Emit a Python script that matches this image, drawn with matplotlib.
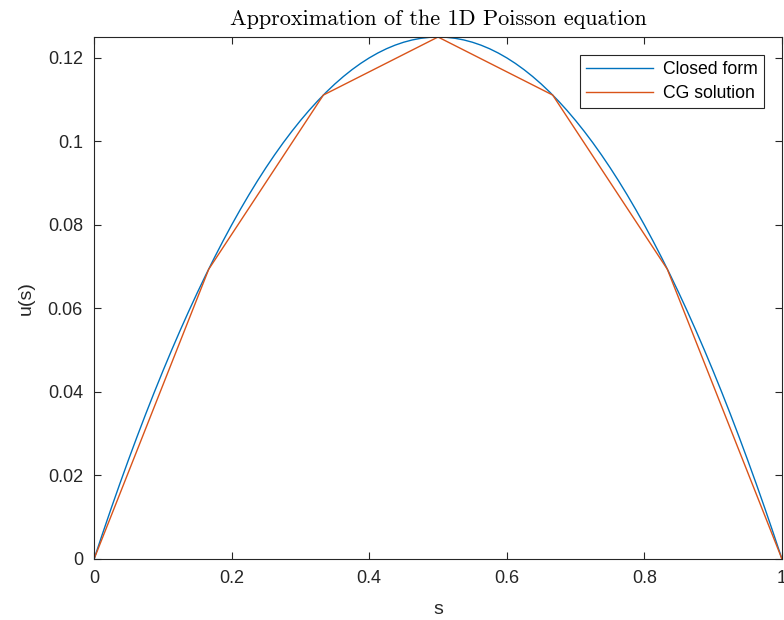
import numpy as np
import matplotlib.pyplot as plt

# closed form u(s) at 81 evenly spaced s values
s_exact = np.linspace(0, 1, 81)
u_exact = [0, 0.006172, 0.012188, 0.018047, 0.02375, 0.029297, 0.034688,
           0.039922, 0.045, 0.049922, 0.054688, 0.059297, 0.06375, 0.068047,
           0.072188, 0.076172, 0.08, 0.083672, 0.087188, 0.090547, 0.09375,
           0.096797, 0.099688, 0.102422, 0.105, 0.107422, 0.109688, 0.111797,
           0.11375, 0.115547, 0.117188, 0.118672, 0.12, 0.121172, 0.122188,
           0.123047, 0.12375, 0.124297, 0.124688, 0.124922, 0.125,
           0.124922, 0.124688, 0.124297, 0.12375, 0.123047, 0.122188,
           0.121172, 0.12, 0.118672, 0.117188, 0.115547, 0.11375, 0.111797,
           0.109688, 0.107422, 0.105, 0.102422, 0.099688, 0.096797, 0.09375,
           0.090547, 0.087188, 0.083672, 0.08, 0.076172, 0.072188, 0.068047,
           0.06375, 0.059297, 0.054688, 0.049922, 0.045, 0.039922, 0.034688,
           0.029297, 0.02375, 0.018047, 0.012188, 0.006172, 0]

# CG solution nodes
s_cg = [0, 0.1667, 0.3333, 0.5, 0.6667, 0.8333, 1.0]
u_cg = [0, 0.0694, 0.1111, 0.125, 0.1111, 0.0694, 0]

xticks = [0, 0.2, 0.4, 0.6, 0.8, 1]
xlabels = ['0', '0.2', '0.4', '0.6', '0.8', '1']
yticks = [0, 0.02, 0.04, 0.06, 0.08, 0.1, 0.12]
ylabels = ['0', '0.02', '0.04', '0.06', '0.08', '0.1', '0.12']

plt.rcParams['font.family'] = ['Liberation Sans', 'DejaVu Sans']
edge = '#262626'

fig = plt.figure(figsize=(7.84, 6.2), dpi=100)
ax = fig.add_axes([0.12, 0.0984, 0.8774, 0.8419])

ax.plot(s_exact, u_exact, color='#0072BD', lw=1.0, label='Closed form')
ax.plot(s_cg, u_cg, color='#D95319', lw=1.0, label='CG solution')

ax.set_xlim(0, 1)
ax.set_ylim(0, 0.125)
ax.set_xticks(xticks)
ax.set_xticklabels(xlabels)
ax.set_yticks(yticks)
ax.set_yticklabels(ylabels)
ax.tick_params(direction='in', top=True, right=True, length=5, width=0.8,
               color=edge, labelcolor=edge, labelsize=13, pad=8)
for sp in ax.spines.values():
    sp.set_color(edge)
    sp.set_linewidth(0.8)

ax.set_xlabel('s', fontsize=14, color=edge, labelpad=10)
ax.set_ylabel('u(s)', fontsize=14, color=edge, labelpad=9)
ax.set_title('Approximation of the 1D Poisson equation', fontfamily='cmr10',
             fontsize=16, color='black', pad=9)

leg = ax.legend(loc='upper right', fontsize=12.7, fancybox=False, framealpha=1,
                edgecolor=edge, borderaxespad=1.0, handlelength=3.8,
                borderpad=0.35, labelspacing=0.4, handletextpad=0.6)
leg.get_frame().set_linewidth(0.8)

fig.savefig('out.png', dpi=100)
